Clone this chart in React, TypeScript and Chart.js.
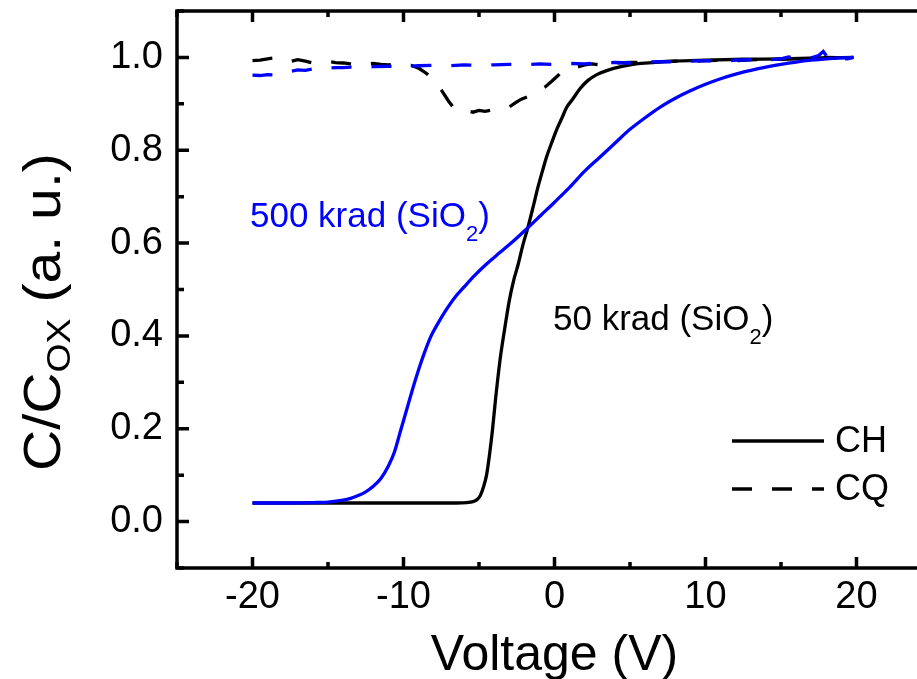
import { useEffect, useRef } from "react";
import { Chart, registerables } from "chart.js";

Chart.register(...registerables);

const FONT = '"Liberation Sans", Arial, Helvetica, sans-serif';
const BLUE = "#0000ff";
const BLACK = "#000000";

// Axis ranges and tick values
const xRange = [-25, 25];
const yRange = [-0.1, 1.1];
const xTickValues = [-20, -10, 0, 10, 20];
const xMinorValues = [-25, -15, -5, 5, 15, 25];
const yTickValues = [0, 0.2, 0.4, 0.6, 0.8, 1.0];
const yMinorValues = [-0.1, 0.1, 0.3, 0.5, 0.7, 0.9, 1.1];

// CH, 50 krad (SiO2)
const ch50Voltage = [
  -20, -18, -16, -14, -12, -10, -8, -6.5, -5.8, -5.4, -5.1, -4.9, -4.7, -4.5, -4.3, -4.1, -3.9,
  -3.6, -3.3, -3.0, -2.7, -2.4, -2.1, -1.75, -1.4, -1.1, -0.8, -0.5, -0.2, 0.15, 0.5, 0.8, 1.2,
  1.7, 2.2, 2.8, 3.5, 4.4, 5.4, 6.5, 8, 10, 12.5, 15, 17.5, 19.8,
];
const ch50Cap = [
  0.04, 0.04, 0.04, 0.04, 0.04, 0.04, 0.04, 0.04, 0.041, 0.043, 0.048, 0.057, 0.075, 0.1, 0.145,
  0.2, 0.265, 0.35, 0.415, 0.475, 0.52, 0.555, 0.595, 0.635, 0.68, 0.72, 0.755, 0.788, 0.815,
  0.845, 0.87, 0.892, 0.91, 0.933, 0.95, 0.963, 0.972, 0.98, 0.986, 0.989, 0.992, 0.994, 0.996,
  0.997, 0.999, 1.0,
];

// CH, 500 krad (SiO2)
const ch500Voltage = [
  -20, -18, -16, -15, -14, -13.5, -13, -12.5, -12, -11.5, -11, -10.6, -10.2, -9.8, -9.4, -9.0,
  -8.6, -8.2, -7.7, -7.2, -6.6, -6.0, -5.3, -4.5, -3.6, -2.7, -1.8, -0.9, 0, 1, 2, 3, 4, 5, 6, 7,
  8, 9, 10, 11, 12, 13, 14, 15, 16, 17, 18, 19, 19.8,
];
const ch500Cap = [
  0.04, 0.04, 0.041, 0.042, 0.046, 0.05, 0.056, 0.064, 0.076, 0.093, 0.12, 0.15, 0.195, 0.24,
  0.285, 0.327, 0.365, 0.398, 0.428, 0.455, 0.483, 0.505, 0.53, 0.555, 0.58, 0.605, 0.632, 0.66,
  0.688, 0.72, 0.755, 0.785, 0.815, 0.845, 0.87, 0.893, 0.912, 0.928, 0.942, 0.954, 0.964, 0.972,
  0.979, 0.985, 0.99, 0.994, 0.997, 0.999, 1.0,
];

// CQ, 50 krad (SiO2)
const cq50Voltage = [
  -20, -19.5, -19, -18.5, -18, -17.5, -17, -16.5, -16, -15.5, -15, -14.5, -14, -13.5, -13, -12.5,
  -12, -11.5, -11, -10.5, -10, -9.5, -9, -8.5, -8, -7.5, -7, -6.6, -6.2, -5.8, -5.4, -5.0, -4.6,
  -4.2, -3.8, -3.4, -3.0, -2.6, -2.2, -1.8, -1.4, -1.0, -0.6, -0.2, 0.2, 0.4, 0.8, 1.2, 1.6, 2.0,
  2.5, 3.0, 3.5, 4, 5, 6, 7, 8, 9, 10, 11, 12, 13, 14, 15, 16, 17, 17.5, 18, 19, 19.8,
];
const cq50Cap = [
  0.993, 0.994, 0.997, 0.999, 0.996, 0.991, 0.995, 0.992, 0.988, 0.99, 0.991, 0.989, 0.988, 0.986,
  0.984, 0.985, 0.987, 0.985, 0.984, 0.985, 0.983, 0.983, 0.977, 0.966, 0.952, 0.93, 0.905, 0.888,
  0.884, 0.885, 0.882, 0.886, 0.884, 0.886, 0.889, 0.89, 0.893, 0.902, 0.91, 0.915, 0.922, 0.93,
  0.937, 0.948, 0.96, 0.966, 0.972, 0.977, 0.98, 0.984, 0.986, 0.984, 0.987, 0.988, 0.989, 0.99,
  0.991, 0.992, 0.991, 0.993, 0.994, 0.993, 0.995, 0.996, 0.996, 0.997, 0.998, 0.996, 1.0, 0.999,
  1.0,
];

// CQ, 500 krad (SiO2)
const cq500Voltage = [
  -20, -19.5, -19, -18.5, -18, -17.5, -17, -16.5, -16, -15.5, -15, -14.5, -14, -13.5, -13, -12,
  -11, -10.5, -10, -9.5, -9, -8, -7, -6, -5, -4, -3, -2, -1, 0, 1, 2, 3, 4, 5, 6, 7, 8, 9, 10, 11,
  12, 13, 14, 15, 15.5, 16, 16.5, 17, 17.5, 17.8, 18.1, 18.5, 19, 19.4, 19.8,
];
const cq500Cap = [
  0.962, 0.961, 0.963, 0.962, 0.966, 0.97, 0.973, 0.972, 0.975, 0.974, 0.977, 0.978, 0.978, 0.979,
  0.978, 0.98, 0.981, 0.98, 0.982, 0.981, 0.982, 0.983, 0.982, 0.984, 0.983, 0.984, 0.985, 0.984,
  0.986, 0.985, 0.987, 0.986, 0.988, 0.989, 0.988, 0.99, 0.991, 0.99, 0.992, 0.993, 0.992, 0.994,
  0.995, 0.994, 0.997, 1.001, 0.998, 1.0, 0.999, 1.004, 1.013, 0.999, 1.001, 0.998, 0.997, 1.0,
];

const toPoints = (xs: number[], ys: number[]) => xs.map((x, i) => ({ x, y: ys[i] }));

type Run = { text: string; size: number; dy: number };

// Draws a sequence of text runs (main text and subscripts) left to right.
function drawRuns(ctx: CanvasRenderingContext2D, runs: Run[], x: number, y: number, color: string) {
  ctx.save();
  ctx.fillStyle = color;
  ctx.textAlign = "left";
  ctx.textBaseline = "alphabetic";
  let cx = x;
  for (const r of runs) {
    ctx.font = `${r.size}px ${FONT}`;
    ctx.fillText(r.text, cx, y + r.dy);
    cx += ctx.measureText(r.text).width;
  }
  ctx.restore();
}

const framePlugin = {
  id: "frameTicks",
  afterDatasetsDraw(chart: any) {
    const { ctx, chartArea } = chart;
    const { left, right, top, bottom } = chartArea;
    const xs = chart.scales.x;
    const ys = chart.scales.y;
    ctx.save();
    ctx.strokeStyle = BLACK;
    ctx.lineWidth = 3.5;
    ctx.lineCap = "butt";
    ctx.beginPath();
    const xTick = (v: number, len: number) => {
      const px = xs.getPixelForValue(v);
      ctx.moveTo(px, bottom);
      ctx.lineTo(px, bottom - len);
      ctx.moveTo(px, top);
      ctx.lineTo(px, top + len);
    };
    const yTick = (v: number, len: number) => {
      const py = ys.getPixelForValue(v);
      ctx.moveTo(left, py);
      ctx.lineTo(left + len, py);
      ctx.moveTo(right, py);
      ctx.lineTo(right - len, py);
    };
    xTickValues.forEach((v) => xTick(v, 11));
    xMinorValues.forEach((v) => xTick(v, 6));
    yTickValues.forEach((v) => yTick(v, 12));
    yMinorValues.forEach((v) => yTick(v, 7));
    ctx.stroke();
    ctx.lineJoin = "miter";
    ctx.strokeRect(left, top, right - left, bottom - top);
    ctx.restore();
  },
  afterDraw(chart: any) {
    const { ctx, chartArea } = chart;
    // Axis titles
    ctx.save();
    ctx.fillStyle = BLACK;
    ctx.font = `50px ${FONT}`;
    ctx.textAlign = "center";
    ctx.textBaseline = "alphabetic";
    ctx.fillText("Voltage (V)", (chartArea.left + chartArea.right) / 2, 670);
    ctx.restore();

    ctx.save();
    ctx.translate(60, 471);
    ctx.rotate(-Math.PI / 2);
    ctx.scale(1.1, 1);
    drawRuns(
      ctx,
      [
        { text: "C/C", size: 52, dy: 0 },
        { text: "OX", size: 34, dy: 10 },
        { text: " (a. u.)", size: 52, dy: 0 },
      ],
      0,
      0,
      BLACK
    );
    ctx.restore();

    // Curve labels
    drawRuns(
      ctx,
      [
        { text: "500 krad (SiO", size: 35, dy: 0 },
        { text: "2", size: 22, dy: 14 },
        { text: ")", size: 35, dy: 0 },
      ],
      250,
      227,
      BLUE
    );
    drawRuns(
      ctx,
      [
        { text: "50 krad (SiO", size: 35, dy: 0 },
        { text: "2", size: 22, dy: 14 },
        { text: ")", size: 35, dy: 0 },
      ],
      553,
      330,
      BLACK
    );

    // Legend
    ctx.save();
    ctx.strokeStyle = BLACK;
    ctx.lineWidth = 3.5;
    ctx.beginPath();
    ctx.moveTo(732, 441);
    ctx.lineTo(824, 441);
    ctx.stroke();
    ctx.setLineDash([20, 20]);
    ctx.beginPath();
    ctx.moveTo(732, 489);
    ctx.lineTo(824, 489);
    ctx.stroke();
    ctx.restore();
    ctx.save();
    ctx.fillStyle = BLACK;
    ctx.font = `36px ${FONT}`;
    ctx.textBaseline = "middle";
    ctx.textAlign = "left";
    ctx.fillText("CH", 835, 442);
    ctx.fillText("CQ", 835, 490);
    ctx.restore();
  },
};

const noEdgePadding = (s: any) => {
  s.paddingTop = 0;
  s.paddingBottom = 0;
  s.paddingLeft = 0;
  s.paddingRight = 0;
};

export default function App() {
  const canvasRef = useRef<HTMLCanvasElement | null>(null);

  useEffect(() => {
    const canvas = canvasRef.current;
    if (!canvas) return;
    const common = { pointRadius: 0, borderWidth: 3.3, fill: false };
    const chart = new Chart(canvas, {
      type: "line",
      data: {
        datasets: [
          {
            ...common,
            label: "CQ 500 krad",
            data: toPoints(cq500Voltage, cq500Cap),
            borderColor: BLUE,
            borderDash: [20, 20],
            tension: 0,
          },
          {
            ...common,
            label: "CH 500 krad",
            data: toPoints(ch500Voltage, ch500Cap),
            borderColor: BLUE,
            cubicInterpolationMode: "monotone",
          },
          {
            ...common,
            label: "CQ 50 krad",
            data: toPoints(cq50Voltage, cq50Cap),
            borderColor: BLACK,
            borderDash: [20, 20],
            tension: 0,
          },
          {
            ...common,
            label: "CH 50 krad",
            data: toPoints(ch50Voltage, ch50Cap),
            borderColor: BLACK,
            cubicInterpolationMode: "monotone",
          },
        ],
      } as any,
      options: {
        animation: false,
        responsive: false,
        devicePixelRatio: 1,
        layout: { padding: { top: 11, right: 13, left: 0, bottom: 0 } },
        plugins: { legend: { display: false }, tooltip: { enabled: false } },
        scales: {
          x: {
            type: "linear",
            min: xRange[0],
            max: xRange[1],
            grid: { display: false, drawTicks: false },
            border: { display: false },
            ticks: {
              color: BLACK,
              font: { family: FONT, size: 38 },
              padding: 7,
              maxRotation: 0,
              autoSkip: false,
              callback: (v: any) => String(v),
            },
            afterBuildTicks: (s: any) => {
              s.ticks = xTickValues.map((value) => ({ value }));
            },
            afterFit: (s: any) => {
              s.height = 111;
              noEdgePadding(s);
            },
          },
          y: {
            type: "linear",
            min: yRange[0],
            max: yRange[1],
            grid: { display: false, drawTicks: false },
            border: { display: false },
            ticks: {
              color: BLACK,
              font: { family: FONT, size: 38 },
              padding: 14,
              autoSkip: false,
              callback: (v: any) => Number(v).toFixed(1),
            },
            afterBuildTicks: (s: any) => {
              s.ticks = yTickValues.map((value) => ({ value }));
            },
            afterFit: (s: any) => {
              s.width = 177;
              noEdgePadding(s);
            },
          },
        },
      } as any,
      plugins: [framePlugin],
    });
    return () => chart.destroy();
  }, []);

  return (
    <div
      style={{
        position: "fixed",
        left: 0,
        top: 0,
        width: 917,
        height: 679,
        overflow: "hidden",
        background: "#ffffff",
      }}
    >
      <canvas ref={canvasRef} width={945} height={679} style={{ display: "block", width: 945, height: 679 }} />
    </div>
  );
}
